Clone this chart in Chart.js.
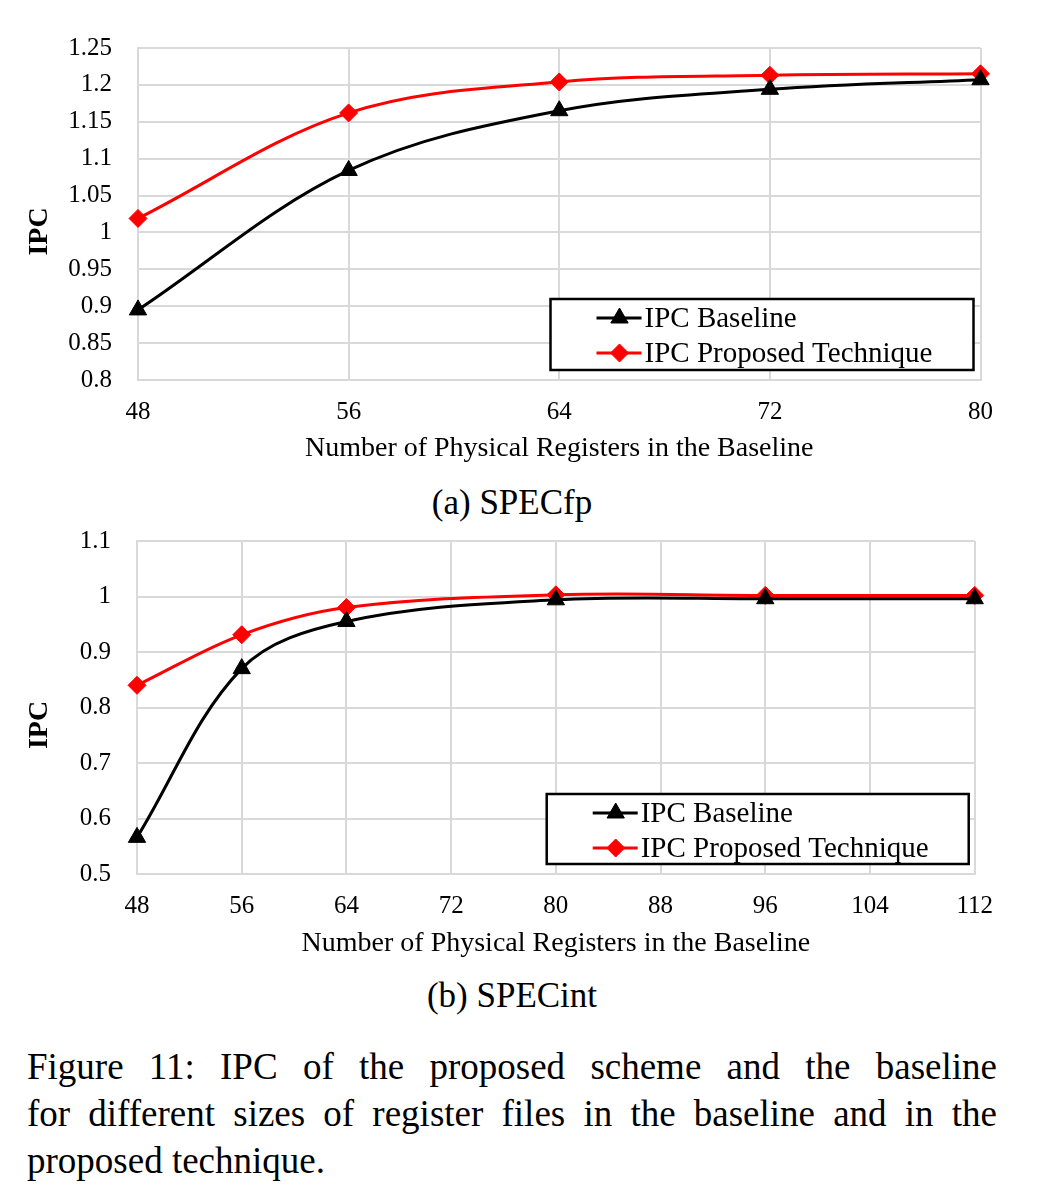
<!DOCTYPE html>
<html>
<head>
<meta charset="utf-8">
<script src="https://cdn.jsdelivr.net/npm/chart.js@4"></script>
<style>
  body { margin: 0; background: #fff; width: 1051px; height: 1194px; position: relative; font-family: "Liberation Serif", serif; color: #000; }
  .chart-box { position: absolute; left: 0; width: 1010px; }
  .sub { position: absolute; left: 0; width: 1024px; text-align: center; font-size: 35px; }
  #fig-caption { position: absolute; left: 27px; width: 970px; top: 1043px; font-size: 37px; line-height: 47px; }
  #fig-caption div { text-align: justify; text-align-last: justify; white-space: nowrap; }
  #fig-caption div.last { text-align-last: left; }
</style>
</head>
<body>
<div class="chart-box" style="top:7px;height:463px"><canvas id="fp-chart"></canvas></div>
<div class="sub" style="top:483px">(a) SPECfp</div>
<div class="chart-box" style="top:500px;height:465px"><canvas id="int-chart"></canvas></div>
<div class="sub" style="top:976px">(b) SPECint</div>
<div id="fig-caption">
  <div>Figure 11: IPC of the proposed scheme and the baseline</div>
  <div>for different sizes of register files in the baseline and in the</div>
  <div class="last">proposed technique.</div>
</div>

<script>
// SPECfp
const fpRegisters = [48, 56, 64, 72, 80];
const fpBaseline = [0.895, 1.084, 1.165, 1.194, 1.207];
const fpProposed = [1.019, 1.162, 1.204, 1.213, 1.215];

// SPECint
const intRegisters = [48, 56, 64, 80, 96, 112];
const intBaseline = [0.566, 0.870, 0.955, 0.994, 0.996, 0.996];
const intProposed = [0.840, 0.931, 0.980, 1.003, 1.002, 1.002];

const seriesNames = ["IPC Baseline", "IPC Proposed Technique"];
const xTitle = "Number of Physical Registers in the Baseline";
// trailing spaces push the rotated title a bit below the plot centre, like the original
const yTitle = "IPC     ";

const serif = "'Liberation Serif', serif";
const gridColor = "#d9d9d9";

function toPoints(xs, ys) {
  return xs.map((x, i) => ({ x: x, y: ys[i] }));
}

// legend drawn as a framed box inside the plot area, bottom right
const boxLegend = {
  id: "boxLegend",
  afterDatasetsDraw(chart, args, opts) {
    const { ctx, chartArea } = chart;
    const x0 = chartArea.right - opts.right - opts.width;
    const y0 = chartArea.bottom - opts.bottom - opts.height;
    ctx.save();
    ctx.fillStyle = "#fff";
    ctx.fillRect(x0, y0, opts.width, opts.height);
    ctx.lineWidth = 2.5;
    ctx.strokeStyle = "#000";
    ctx.strokeRect(x0, y0, opts.width, opts.height);

    chart.data.datasets.forEach((ds, i) => {
      const y = y0 + 19 + i * 35;
      const lx = x0 + 46;
      ctx.strokeStyle = ds.borderColor;
      ctx.fillStyle = ds.backgroundColor;
      ctx.lineWidth = ds.borderWidth;
      ctx.beginPath();
      ctx.moveTo(lx, y);
      ctx.lineTo(lx + 45, y);
      ctx.stroke();
      ctx.lineWidth = 1;
      Chart.helpers.drawPoint(ctx, { pointStyle: ds.pointStyle, radius: ds.pointRadius, borderWidth: 1, rotation: 0 }, lx + 23, y);
      ctx.fillStyle = "#000";
      ctx.font = "29px " + serif;
      ctx.textBaseline = "middle";
      ctx.textAlign = "left";
      ctx.fillText(ds.label, x0 + 94, y + 1);
    });
    ctx.restore();
  },
};

function makeChart(canvasId, xs, base, prop, cfg) {
  const ctx = document.getElementById(canvasId).getContext("2d");
  return new Chart(ctx, {
    type: "line",
    data: {
      datasets: [
        {
          label: seriesNames[0],
          data: toPoints(xs, base),
          borderColor: "#000",
          backgroundColor: "#000",
          borderWidth: 3,
          pointStyle: "triangle",
          pointRadius: 10,
          pointBorderWidth: 1,
          tension: 0.35,
          clip: false,
        },
        {
          label: seriesNames[1],
          data: toPoints(xs, prop),
          borderColor: "#ff0000",
          backgroundColor: "#ff0000",
          borderWidth: 3,
          pointStyle: "rectRot",
          pointRadius: 9,
          pointBorderWidth: 1,
          tension: 0.35,
          clip: false,
        },
      ],
    },
    options: {
      responsive: true,
      maintainAspectRatio: false,
      animation: false,
      layout: { autoPadding: false, padding: { top: 10, right: cfg.padRight, left: 0, bottom: 0 } },
      plugins: {
        legend: { display: false },
        tooltip: { enabled: false },
        boxLegend: cfg.legend,
      },
      scales: {
        x: {
          type: "linear",
          min: cfg.xMin,
          max: cfg.xMax,
          grid: { color: gridColor, lineWidth: 2, drawTicks: false },
          border: { color: gridColor, width: 2 },
          ticks: { stepSize: 8, color: "#000", padding: 17, font: { family: serif, size: 25 } },
          title: { display: true, text: xTitle, color: "#000", padding: { top: 0, bottom: 5 }, font: { family: serif, size: 28 } },
          afterFit: (scale) => { scale.height = cfg.xHeight; },
        },
        y: {
          min: cfg.yMin,
          max: cfg.yMax,
          grid: { color: gridColor, lineWidth: 2, drawTicks: false },
          border: { color: gridColor, width: 2 },
          ticks: {
            stepSize: cfg.yStep,
            color: "#000",
            padding: 26,
            font: { family: serif, size: 25 },
            callback: (v) => String(Number(v.toFixed(2))),
          },
          title: { display: true, text: yTitle, color: "#000", padding: { top: 23, bottom: 0 }, font: { family: serif, size: 28, weight: "bold" } },
          afterFit: (scale) => { scale.width = cfg.yWidth; },
        },
      },
    },
    plugins: [boxLegend],
  });
}

makeChart("fp-chart", fpRegisters, fpBaseline, fpProposed, {
  padRight: 28, xHeight: 90, yWidth: 138,
  xMin: 48, xMax: 80, yMin: 0.8, yMax: 1.25, yStep: 0.05,
  legend: { width: 423, height: 71, right: 7, bottom: 10 },
});

makeChart("int-chart", intRegisters, intBaseline, intProposed, {
  padRight: 33, xHeight: 91, yWidth: 137,
  xMin: 48, xMax: 112, yMin: 0.5, yMax: 1.1, yStep: 0.1,
  legend: { width: 422, height: 70, right: 6, bottom: 10 },
});
</script>
</body>
</html>
